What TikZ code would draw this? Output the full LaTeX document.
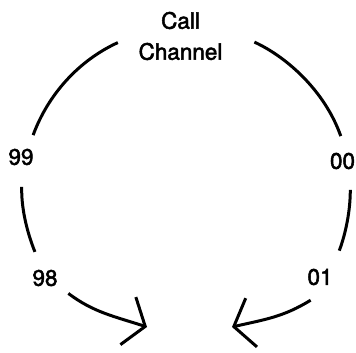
\documentclass[tikz,border=0pt]{standalone}
\usepackage{fontspec}
\setmainfont{TeX Gyre Heros}[FakeBold=2.2]
\usetikzlibrary{arrows.meta}
\newcommand{\chanfont}{\fontsize{22.5}{31}\selectfont}
\tikzset{
lbl/.style={circle,inner sep=0pt,outer sep=0pt,minimum size=50pt},
hub/.style={lbl,minimum size=126pt,align=center},
ring/.style={line width=3pt,looseness=0.88},
hop/.style={line width=3pt,-{Straight Barb[length=18pt,width=50pt]}}
}

\begin{document}
\begin{tikzpicture}[x=1pt,y=-1pt,every node/.style={font=\chanfont}]
\useasboundingbox (0,0) rectangle (356,353);
\node[hub] (call) at (180.5,36) {Call\\Channel};
\node[lbl] (n99) at (21,157) {99};
\node[lbl] (n00) at (342.5,161) {00};
\node[lbl] (n98) at (45,278) {98};
\node[lbl] (n01) at (320,277) {01};
\coordinate (tipL) at (147,327);
\coordinate (tipR) at (232,327);
\draw[ring] (call.186) to[out=204.6,in=69.8] (n99.61);
\draw[ring,shorten <=12pt] (call.-1) to[out=-24.6,in=109.4] (n00.94);
\draw[ring,shorten <=5pt,shorten >=3pt] (n99.-88) to[out=-91.6,in=111.8] (n98.111);
\draw[ring,shorten <=5pt,shorten >=8pt] (n00.-72) to[out=-89.5,in=69.1] (n01.49);
\draw[hop,shorten <=3pt] (n98.-33) to[out=-37,in=162] (tipL);
\draw[hop] (n01.248) to[out=211.8,in=13] (tipR);
\end{tikzpicture}
\end{document}
